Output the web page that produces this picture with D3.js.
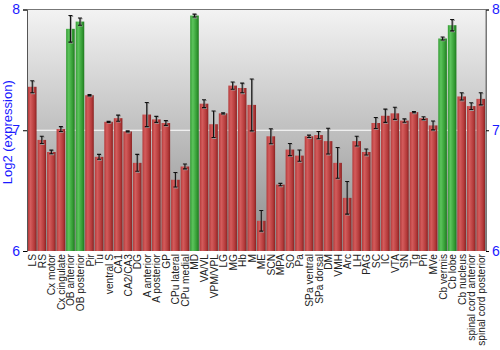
<!DOCTYPE html>
<html>
<head>
<meta charset="utf-8">
<script src="https://cdn.jsdelivr.net/npm/d3@7"></script>
<style>
  body { margin: 0; background: #fff; }
  svg { display: block; font-family: "Liberation Sans", Arial, sans-serif; }
</style>
</head>
<body>
<div id="chart"></div>
<script>
// regions (x axis)
const regions = ['LS', 'RS', 'Cx motor', 'Cx cingulate', 'OB anterior', 'OB posterior', 'Pir', 'Tu',
  'ventral S', 'CA1', 'CA2/CA3', 'DG', 'A anterior', 'A posterior', 'GP', 'CPu lateral', 'CPu medial',
  'MD', 'VA/VL', 'VPM/VPL', 'LG', 'MG', 'Hb', 'M', 'ME', 'SCN', 'MPA', 'SO', 'Pa', 'SPa ventral',
  'SPa dorsal', 'DM', 'VMH', 'Arc', 'LH', 'PAG', 'SC', 'IC', 'VTA', 'SN', 'Tg', 'Pn', 'MVe',
  'Cb vermis', 'Cb lobe', 'Cb nucleus', 'spinal cord anterior', 'spinal cord posterior']

// log2 expression
const values = [7.36, 6.92, 6.82, 7.01, 7.84, 7.90, 7.29, 6.78,
  7.07, 7.10, 6.99, 6.73, 7.13, 7.09, 7.06, 6.59, 6.70,
  7.95, 7.22, 7.05, 7.14, 7.37, 7.35, 7.21, 6.25, 6.95, 6.55, 6.84, 6.79, 6.95,
  6.96, 6.91, 6.73, 6.44, 6.91, 6.82, 7.06, 7.12, 7.14, 7.08, 7.15, 7.10, 7.04,
  7.76, 7.87, 7.28, 7.20, 7.26]

// standard error
const errors = [0.05, 0.03, 0.015, 0.02, 0.11, 0.03, 0.005, 0.02,
  0.005, 0.025, 0.005, 0.07, 0.10, 0.025, 0.02, 0.06, 0.02,
  0.012, 0.033, 0.11, 0.005, 0.03, 0.04, 0.215, 0.085, 0.062, 0.01, 0.05, 0.047, 0.01,
  0.03, 0.107, 0.127, 0.135, 0.04, 0.025, 0.045, 0.055, 0.05, 0.014, 0.005, 0.012, 0.037,
  0.012, 0.047, 0.03, 0.028, 0.05]

// highlighted regions (green)
const highlighted = ['OB anterior', 'OB posterior', 'MD', 'Cb vermis', 'Cb lobe']

const yTicks = [6, 7, 8]

const width = 500,
      height = 350,
      plotLeft = 27,
      plotRight = 486,
      plotTop = 9.5,
      plotBottom = 251

const data = regions.map((name, i) => ({ name, value: values[i], err: errors[i] }))

const svg = d3.select('#chart').append('svg')
  .attr('width', width)
  .attr('height', height)

const defs = svg.append('defs')

// plot background
const bg = defs.append('linearGradient').attr('id', 'bg')
  .attr('x1', 0).attr('y1', 0).attr('x2', 0).attr('y2', 1)
bg.append('stop').attr('offset', '0%').attr('stop-color', '#f3f3f3')
bg.append('stop').attr('offset', '100%').attr('stop-color', '#8c8c8c')

// bar shading
function barGradient (id, light, mid, dark) {
  const g = defs.append('linearGradient').attr('id', id)
    .attr('x1', 0).attr('y1', 0).attr('x2', 1).attr('y2', 0)
  g.append('stop').attr('offset', '0%').attr('stop-color', mid)
  g.append('stop').attr('offset', '30%').attr('stop-color', light)
  g.append('stop').attr('offset', '75%').attr('stop-color', mid)
  g.append('stop').attr('offset', '100%').attr('stop-color', dark)
}
barGradient('red', '#d45c5c', '#b43a3a', '#8a2222')
barGradient('green', '#5cc45c', '#349c34', '#1f7a1f')

const x = d3.scaleBand()
  .domain(regions)
  .range([plotLeft, plotRight])
  .paddingInner(0.1)
  .paddingOuter(0.1)

const y = d3.scaleLinear()
  .domain([6, 8])
  .range([plotBottom, plotTop])

svg.append('rect')
  .attr('x', plotLeft).attr('y', plotTop)
  .attr('width', plotRight - plotLeft).attr('height', plotBottom - plotTop)
  .attr('fill', 'url(#bg)')

// white grid line
svg.append('line')
  .attr('x1', plotLeft).attr('x2', plotRight)
  .attr('y1', y(7)).attr('y2', y(7))
  .attr('stroke', '#fff').attr('stroke-width', 1.2)

// frame
svg.append('path')
  .attr('d', `M${plotLeft},${plotTop}H${plotRight}V${plotBottom}`)
  .attr('fill', 'none').attr('stroke', '#777')

// bars
svg.append('g').selectAll('rect')
  .data(data).enter()
  .append('rect')
  .attr('x', d => x(d.name))
  .attr('y', d => y(d.value))
  .attr('width', x.bandwidth())
  .attr('height', d => y(6) - y(d.value))
  .attr('fill', d => highlighted.includes(d.name) ? 'url(#green)' : 'url(#red)')

// error bars
const errPath = d => `M-2,${y(d.value + d.err)}H2M0,${y(d.value + d.err)}V${y(d.value - d.err)}M-2,${y(d.value - d.err)}H2`
const eb = svg.append('g').selectAll('g')
  .data(data).enter()
  .append('g')
  .attr('transform', d => `translate(${x(d.name) + x.bandwidth() / 2},0)`)
eb.append('path')
  .attr('d', errPath)
  .attr('transform', 'translate(0.8,0.8)')
  .attr('fill', 'none').attr('stroke', '#999').attr('stroke-width', 1.2)
eb.append('path')
  .attr('d', errPath)
  .attr('fill', 'none').attr('stroke', '#111').attr('stroke-width', 1.1)

// y axes
const yAxisL = d3.axisLeft(y).tickValues(yTicks).tickFormat(d3.format('d')).tickSize(4).tickPadding(3)
const yAxisR = d3.axisRight(y).tickValues(yTicks).tickFormat(d3.format('d')).tickSize(3).tickPadding(3)

const gl = svg.append('g').attr('transform', `translate(${plotLeft},0)`).call(yAxisL)
const gr = svg.append('g').attr('transform', `translate(${plotRight},0)`).call(yAxisR)
;[gl, gr].forEach(g => {
  g.select('.domain').attr('stroke', '#555')
  g.selectAll('.tick line').attr('stroke', '#000')
  g.selectAll('.tick text').attr('fill', '#1a1aff').style('font-size', '14px')
    .style('font-family', '"Liberation Sans", Arial, sans-serif')
})
gr.select('.domain').attr('stroke', '#777')

// y title
svg.append('text')
  .attr('transform', `translate(12,${(plotTop + plotBottom) / 2 + 2}) rotate(-90)`)
  .attr('text-anchor', 'middle')
  .attr('fill', '#1a1aff')
  .style('font-size', '13px')
  .text('Log2 (expression)')

// category labels
svg.append('g').selectAll('text')
  .data(regions).enter()
  .append('text')
  .attr('transform', d => `translate(${x(d) + x.bandwidth() / 2 + 4},${plotBottom + 3}) rotate(-90)`)
  .attr('text-anchor', 'end')
  .attr('fill', '#222')
  .style('font-size', '10.2px')
  .text(d => d)
</script>
</body>
</html>
